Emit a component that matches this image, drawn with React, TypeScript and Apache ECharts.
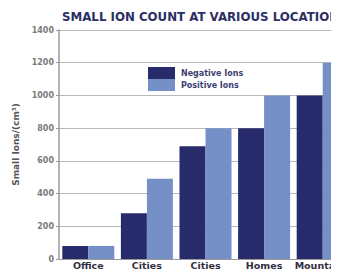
import React, { useEffect, useRef } from "react";
import * as echarts from "echarts";

const categories = [
  "Office\nBuildings",
  "Cities\n(large)",
  "Cities\n(small)",
  "Homes\n(rural)",
  "Mountains\nElevations",
];
const negativeIons = [80, 280, 690, 800, 1000];
const positiveIons = [80, 490, 800, 1000, 1200];
const yTicks = [0, 200, 400, 600, 800, 1000, 1200, 1400];

export default function App() {
  const ref = useRef<HTMLDivElement>(null);
  useEffect(() => {
    if (!ref.current) return;
    const chart = echarts.init(ref.current, undefined, { renderer: "svg" });
    chart.setOption({
      animation: false,
      backgroundColor: "#ffffff",
      title: {
        text: "SMALL ION COUNT AT VARIOUS LOCATIONS",
        left: 62,
        top: 11,
        padding: 0,
        textStyle: {
          fontFamily: "DejaVu Sans",
          fontSize: 11.8,
          fontWeight: "bold",
          color: "#2b2f63",
        },
      },
      legend: {
        orient: "vertical",
        left: 148,
        top: 67,
        itemWidth: 27,
        itemHeight: 12,
        itemGap: 0,
        icon: "rect",
        padding: 0,
        data: ["Negative Ions", "Positive Ions"],
        textStyle: {
          fontFamily: "DejaVu Sans",
          fontSize: 8,
          fontWeight: "bold",
          color: "#3d4070",
          padding: [0, 0, 0, 1],
        },
      },
      grid: {
        left: 59,
        right: -13,
        top: 30,
        bottom: 21,
        containLabel: false,
        outerBoundsMode: "none",
      },
      xAxis: {
        type: "category",
        data: categories,
        axisLine: { lineStyle: { color: "#9a9a9a", width: 1 } },
        axisTick: { show: false },
        axisLabel: {
          interval: 0,
          margin: 2,
          fontFamily: "DejaVu Sans",
          fontSize: 9.5,
          fontWeight: "bold",
          color: "#2f2f3f",
          lineHeight: 9.5,
          hideOverlap: false,
        },
      },
      yAxis: {
        type: "value",
        min: yTicks[0],
        max: yTicks[yTicks.length - 1],
        interval: 200,
        name: "Small Ions/(cm³)",
        nameLocation: "middle",
        nameGap: 24,
        nameRotate: 90,
        nameTextStyle: {
          fontFamily: "DejaVu Sans",
          fontSize: 9,
          fontWeight: "bold",
          color: "#555",
        },
        axisLine: { show: true, lineStyle: { color: "#9a9a9a", width: 1.5 } },
        axisTick: { show: true, length: 3, lineStyle: { color: "#9a9a9a" } },
        axisLabel: {
          margin: 5,
          fontFamily: "DejaVu Sans",
          fontSize: 8,
          fontWeight: "bold",
          color: "#7a7a7a",
          formatter: (v: number) => String(v),
        },
        splitLine: { lineStyle: { color: "#b8b8b8", width: 1 } },
      },
      series: [
        {
          name: "Negative Ions",
          type: "bar",
          data: negativeIons,
          barWidth: 26,
          barGap: "0%",
          itemStyle: { color: "#272b6b" },
        },
        {
          name: "Positive Ions",
          type: "bar",
          data: positiveIons,
          barWidth: 26,
          itemStyle: { color: "#7490c6" },
        },
      ],
    });
    return () => chart.dispose();
  }, []);
  return <div ref={ref} style={{ width: 339, height: 280, margin: -8 }} />;
}
